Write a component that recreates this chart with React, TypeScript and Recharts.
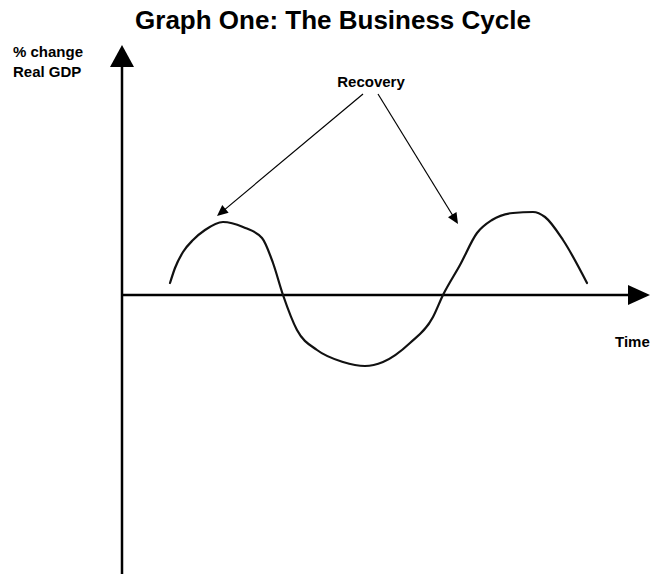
import { LineChart, Line, XAxis, YAxis, ReferenceLine, Customized } from "recharts";

// time axis, in arbitrary units (origin at the y axis)
const time = [2.4, 2.65, 3.05, 3.55, 4.15, 5.05, 6.05, 7.0, 7.55, 8.05, 8.75, 9.75, 11.05, 12.15, 13.05, 14.4, 15.55, 16.05, 16.9, 17.75, 18.5, 19.55, 20.55, 21.15, 22.05, 23.25];
// % change in real GDP at each time point
const gdpChange = [0.6, 1.35, 2.15, 2.75, 3.25, 3.65, 3.4, 2.85, 1.6, 0, -1.75, -2.75, -3.35, -3.55, -3.35, -2.4, -1.1, 0, 1.5, 3.1, 3.75, 4.1, 4.15, 3.9, 2.75, 0.6];

const xDomain: [number, number] = [-6.1, 26.6];
const yDomain: [number, number] = [-13.95, 14.75];

// axis arrows: [from, to]
const timeAxis = [{ x: 0, y: 0 }, { x: 26.4, y: 0 }];
const gdpAxis = [{ x: 0, y: -13.95 }, { x: 0, y: 12.5 }];

// "Recovery" callout arrows
const recoveryArrows = [
  [{ x: 12.05, y: 10.05 }, { x: 4.75, y: 3.95 }],
  [{ x: 12.8, y: 10.05 }, { x: 16.8, y: 3.55 }],
];

const data = time.map((t, i) => ({ t, gdp: gdpChange[i] }));

const FONT = "'Liberation Sans', Arial, sans-serif";

function arrowShape(headLen: number, headHalf: number, width: number) {
  return (props: any) => {
    const { x1, y1, x2, y2 } = props;
    const dx = x2 - x1;
    const dy = y2 - y1;
    const len = Math.sqrt(dx * dx + dy * dy) || 1;
    const ux = dx / len;
    const uy = dy / len;
    const bx = x2 - ux * headLen;
    const by = y2 - uy * headLen;
    const px = -uy * headHalf;
    const py = ux * headHalf;
    return (
      <g>
        <line x1={x1} y1={y1} x2={bx + ux} y2={by + uy} stroke="#000" strokeWidth={width} />
        <polygon points={`${x2},${y2} ${bx + px},${by + py} ${bx - px},${by - py}`} fill="#000" />
      </g>
    );
  };
}

function Labels() {
  return (
    <g fontFamily={FONT} fontWeight="bold" fill="#000">
      <text x={333} y={29} fontSize={26} textAnchor="middle">
        Graph One: The Business Cycle
      </text>
      <text x={13} y={57} fontSize={15}>% change</text>
      <text x={13} y={77} fontSize={15}>Real GDP</text>
      <text x={371} y={87} fontSize={15} textAnchor="middle">Recovery</text>
      <text x={615} y={347} fontSize={15}>Time</text>
    </g>
  );
}

export default function App() {
  return (
    <div style={{ position: "absolute", left: 0, top: 0, background: "#fff" }}>
      <LineChart width={654} height={574} data={data} margin={{ top: 0, right: 0, bottom: 0, left: 0 }}>
        <XAxis type="number" dataKey="t" domain={xDomain} hide allowDataOverflow />
        <YAxis type="number" domain={yDomain} hide allowDataOverflow />
        <ReferenceLine segment={timeAxis} shape={arrowShape(22, 10, 2.5)} ifOverflow="visible" />
        <ReferenceLine segment={gdpAxis} shape={arrowShape(22, 12, 2.5)} ifOverflow="visible" />
        {recoveryArrows.map((seg, i) => (
          <ReferenceLine key={i} segment={seg} shape={arrowShape(11, 5, 1.2)} ifOverflow="visible" />
        ))}
        <Line
          type="monotone"
          dataKey="gdp"
          stroke="#111"
          strokeWidth={2.2}
          strokeLinecap="round"
          dot={false}
          activeDot={false}
          isAnimationActive={false}
        />
        <Customized component={Labels} />
      </LineChart>
    </div>
  );
}
